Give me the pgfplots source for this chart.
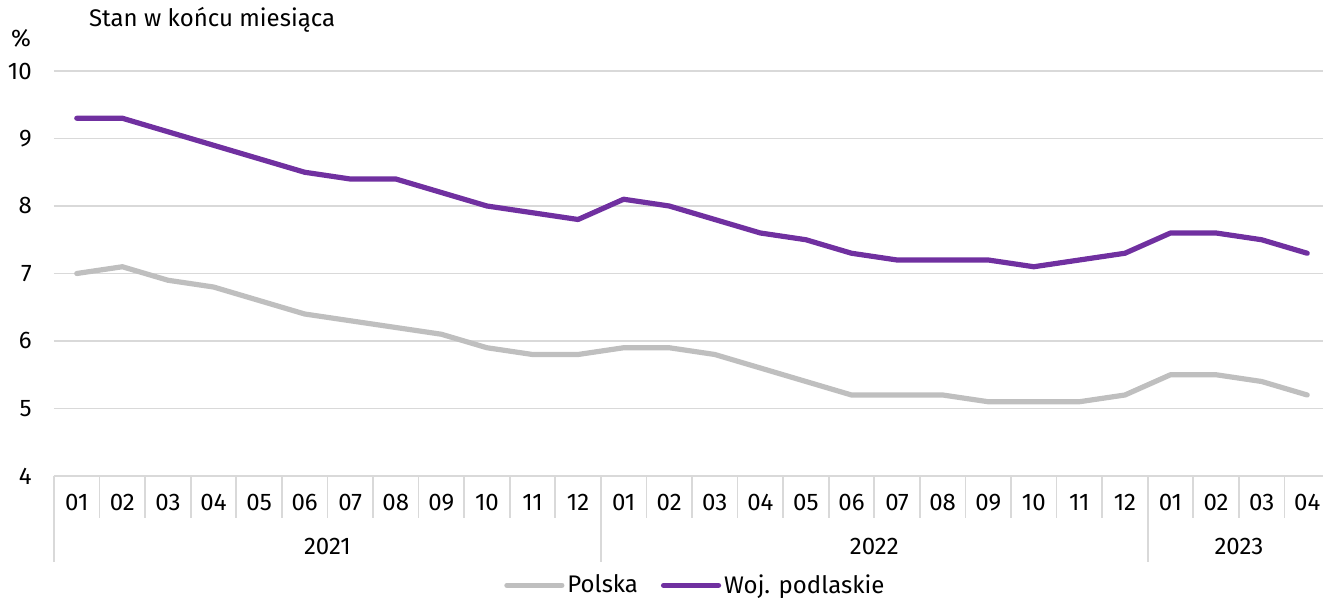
\documentclass[border=0pt]{standalone}
\usepackage{fontspec}
\setmainfont{Fira Sans}
\usepackage{pgfplots}
\pgfplotsset{compat=1.18}
\usepackage{pgfplotstable}
\definecolor{purp}{HTML}{7030A0}
\definecolor{lgray}{HTML}{BFBFBF}
\definecolor{gridc}{HTML}{D9D9D9}
\pgfplotstableread{
x pl pd
1 7.0 9.3
2 7.1 9.3
3 6.9 9.1
4 6.8 8.9
5 6.6 8.7
6 6.4 8.5
7 6.3 8.4
8 6.2 8.4
9 6.1 8.2
10 5.9 8.0
11 5.8 7.9
12 5.8 7.8
13 5.9 8.1
14 5.9 8.0
15 5.8 7.8
16 5.6 7.6
17 5.4 7.5
18 5.2 7.3
19 5.2 7.2
20 5.2 7.2
21 5.1 7.2
22 5.1 7.1
23 5.1 7.2
24 5.2 7.3
25 5.5 7.6
26 5.5 7.6
27 5.4 7.5
28 5.2 7.3
}\data
\begin{document}
\begin{tikzpicture}[font=\fontsize{12}{14}\selectfont]
\begin{axis}[
  at={(27pt,61pt)}, anchor=south west, scale only axis,
  width=638pt, height=202.5pt,
  xmin=0.5, xmax=28.5, ymin=4, ymax=10,
  ytick={4,5,6,7,8,9,10},
  xtick={1,...,28},
  xticklabels={01,02,03,04,05,06,07,08,09,10,11,12,01,02,03,04,05,06,07,08,09,10,11,12,01,02,03,04},
  major tick length=0pt,
  axis line style={draw=none},
  ymajorgrids, grid style={gridc, line width=0.8pt},
  xticklabel style={anchor=center, yshift=-13.25pt},
  yticklabel style={anchor=east, xshift=-7.6pt},
  /pgf/number format/assume math mode=true,
  clip=false,
  legend style={at={(rel axis cs:0.503,-0.27)}, anchor=center, draw=none, fill=none,
    legend columns=2, /tikz/every even column/.append style={column sep=10pt},
    nodes={inner xsep=1.5pt}},
  legend image code/.code={\draw[#1] (0pt,0pt) -- (27.5pt,0pt);},
]
\addplot[lgray, line width=2.6pt, line join=round, line cap=round] table[x=x, y=pl] {\data};
\addlegendentry{Polska}
\addplot[purp, line width=2.6pt, line join=round, line cap=round] table[x=x, y=pd] {\data};
\addlegendentry{Woj. podlaskie}
\pgfplotsinvokeforeach{0.5,1.5,...,28.5}{
  \draw[gridc, line width=0.8pt] (axis cs:#1,4) -- ++(0pt,-21pt);
}
\pgfplotsinvokeforeach{0.5,12.5,24.5,28.5}{
  \draw[gridc, line width=0.8pt] (axis cs:#1,4) -- ++(0pt,-43pt);
}
\node at (axis cs:6.5,4) [yshift=-35.5pt] {2021};
\node at (axis cs:18.5,4) [yshift=-35.5pt] {2022};
\node at (axis cs:26.5,4) [yshift=-35.5pt] {2023};
\end{axis}
\node[anchor=west] at (41pt,289pt) {Stan w końcu miesiąca};
\node at (10.5pt,280pt) {\%};
\pgfresetboundingbox
\path (0,0) rectangle (661.5pt,299pt);
\end{tikzpicture}
\end{document}
